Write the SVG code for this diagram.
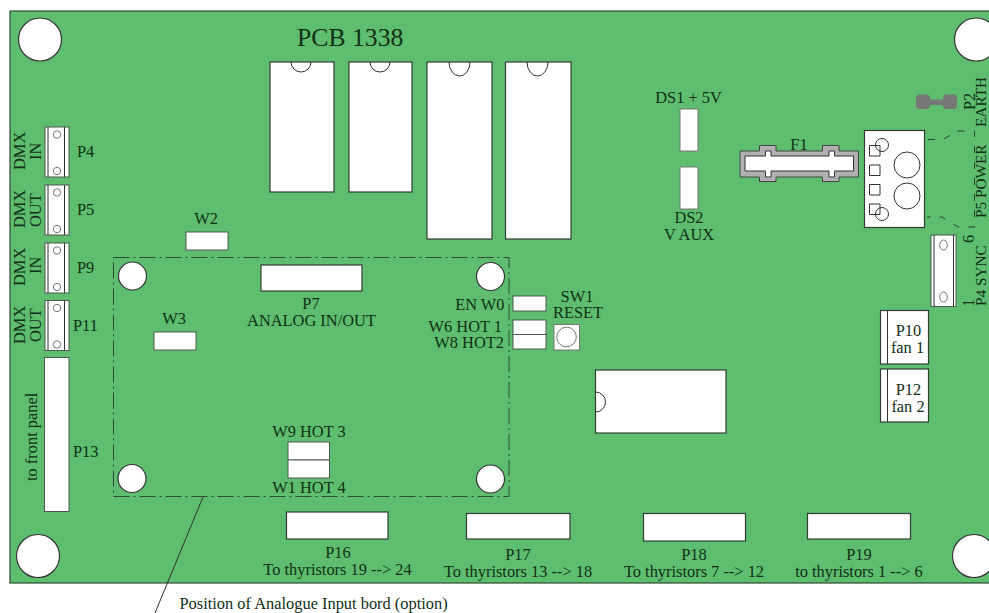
<svg xmlns="http://www.w3.org/2000/svg" width="989" height="613" viewBox="0 0 989 613">
<style>
text{font-family:"Liberation Serif","Times New Roman",serif;font-size:16.4px;fill:#123018}
.m{text-anchor:middle}
.e{font-size:15.300px}
.w{fill:#fff;stroke:#4a5a4c;stroke-width:1}
.b{fill:#fff;stroke:#2f3f33;stroke-width:1.2}
.l{fill:none;stroke:#333;stroke-width:1}
.h{fill:#fff;stroke:#333;stroke-width:1.2}
.g{fill:#fff;stroke:#777;stroke-width:1}
.d{fill:none;stroke:#2f4a35;stroke-width:1;stroke-dasharray:16 4 2 4}
.k{fill:none;stroke:#2f3f33;stroke-width:1;stroke-dasharray:7 9}
.f{fill:#b0b0b0;stroke:#444;stroke-width:1}
</style>
<defs>
<g id="term"><rect class="w" x="0" y="0" width="24" height="50"/><path class="l" d="M3 0V50M19.500 0V50" stroke="#999"/><circle class="g" cx="12" cy="7.500" r="3.700"/><circle class="g" cx="12" cy="44" r="3.700"/></g>
</defs>
<rect id="board" x="10" y="11" width="985" height="572" fill="#5ebd6e" stroke="#2c4a33" stroke-width="1.200"/>
<g id="holes"><circle class="h" cx="40" cy="39.500" r="21.500"/><circle class="h" cx="976" cy="39.500" r="21.500"/><circle class="h" cx="38" cy="556" r="21.500"/><circle class="h" cx="974" cy="556" r="21.500"/></g>
<text x="297" y="46" style="font-size:25.700px">PCB 1338</text>
<g id="ics">
<rect class="b" x="270" y="62" width="64" height="130"/><path class="l" d="M291 62a10 10 0 0 0 20 0"/>
<rect class="b" x="349" y="62" width="63" height="130"/><path class="l" d="M370 62a10 10 0 0 0 20 0"/>
<rect class="b" x="427" y="62" width="65" height="177"/><path class="l" d="M449 62a10.500 14 0 0 0 21 0"/>
<rect class="b" x="505.500" y="62" width="65.500" height="177"/><path class="l" d="M527 62a10.500 14 0 0 0 21 0"/>
<rect class="b" x="595.500" y="370" width="130.500" height="63"/><path class="l" d="M595.500 392a10 10 0 0 1 0 20"/>
</g>
<g id="P4"><use href="#term" x="45" y="127"/><text transform="translate(25 170) rotate(-90)">DMX</text><text transform="translate(41 160) rotate(-90)">IN</text><text x="77" y="157">P4</text></g>
<g id="P5"><use href="#term" x="45" y="185"/><text transform="translate(25 228) rotate(-90)">DMX</text><text transform="translate(41 227) rotate(-90)">OUT</text><text x="77" y="215">P5</text></g>
<g id="P9"><use href="#term" x="45" y="243"/><text transform="translate(25 286) rotate(-90)">DMX</text><text transform="translate(41 274) rotate(-90)">IN</text><text x="77" y="272.500">P9</text></g>
<g id="P11"><use href="#term" x="45" y="300.500"/><text transform="translate(25 344) rotate(-90)">DMX</text><text transform="translate(41 342) rotate(-90)">OUT</text><text x="73" y="331">P11</text></g>
<g id="P13"><rect class="w" x="44.500" y="357.500" width="24.500" height="154"/><text transform="translate(37 481) rotate(-90)">to front panel</text><text x="73" y="457">P13</text></g>
<g id="W2"><rect class="w" x="186" y="232" width="42" height="18"/><text class="m" x="206" y="224">W2</text></g>
<g id="W3"><rect class="w" x="154" y="332" width="42" height="18"/><text class="m" x="174" y="324">W3</text></g>
<g id="option"><rect class="d" x="113.500" y="257.500" width="395.500" height="239"/>
<circle class="h" cx="132.500" cy="276" r="14"/><circle class="h" cx="490.500" cy="276.500" r="14"/><circle class="h" cx="132" cy="478.500" r="14"/><circle class="h" cx="490.500" cy="479" r="14"/></g>
<g id="P7"><rect class="b" x="261" y="265" width="101" height="26"/><text class="m" x="311" y="309">P7</text><text class="m" x="311.500" y="326">ANALOG IN/OUT</text></g>
<g id="W0"><rect class="w" x="513" y="296" width="33" height="15"/><text x="504.500" y="310" text-anchor="end">EN W0</text></g>
<g id="W6"><rect class="w" x="513" y="320" width="33" height="14.500"/><text x="502" y="332" text-anchor="end">W6 HOT 1</text></g>
<g id="W8"><rect class="w" x="513" y="334.500" width="33" height="14.500"/><text x="504" y="348" text-anchor="end">W8 HOT2</text></g>
<g id="SW1"><rect class="g" x="554" y="324.500" width="25.500" height="25.500"/><circle class="g" cx="566.500" cy="337" r="9.800"/><text class="m" x="577" y="302">SW1</text><text class="m" x="578" y="318">RESET</text></g>
<g id="W9"><rect class="w" x="288" y="442" width="41.500" height="18"/><text class="m" x="309" y="437">W9 HOT 3</text></g>
<g id="W1"><rect class="w" x="288" y="460" width="41.500" height="18"/><text class="m" x="309" y="492.500">W1 HOT 4</text></g>
<g id="P16"><rect class="b" x="286.500" y="512" width="101.500" height="27"/><text class="m" x="338" y="558">P16</text><text class="m" x="337.500" y="575">To thyristors 19 --&gt; 24</text></g>
<g id="P17"><rect class="b" x="466.500" y="513.500" width="103.500" height="25.500"/><text class="m" x="518" y="560">P17</text><text class="m" x="518" y="577">To thyristors 13 --&gt; 18</text></g>
<g id="P18"><rect class="b" x="643.500" y="513.500" width="102" height="27.500"/><text class="m" x="694" y="560">P18</text><text class="m" x="694" y="577">To thyristors 7 --&gt; 12</text></g>
<g id="P19"><rect class="b" x="807.500" y="513.500" width="103" height="25.500"/><text class="m" x="859" y="560">P19</text><text class="m" x="859" y="577">to thyristors 1 --&gt; 6</text></g>
<g id="DS1"><rect class="g" x="680" y="109" width="18" height="42"/><text class="m" x="688.500" y="103">DS1 + 5V</text></g>
<g id="DS2"><rect class="g" x="680" y="167" width="18" height="42"/><text class="m" x="689" y="223">DS2</text><text class="m" x="689" y="240">V AUX</text></g>
<g id="F1"><path class="f" d="M740 151H759.500V145.500H776V151H822.500V145.500H839V151H858.500V177H839V181.500H822.500V177H776V181.500H759.500V177H740Z"/>
<path d="M745 156H765.500V151H771V156H829V151H834.500V156H853.500V171H834.500V177H829V171H771V177H765.500V171H745Z" fill="#fff" stroke="#333"/>
<text class="m" x="799" y="150">F1</text></g>
<g id="P5power"><rect class="b" x="864.500" y="130.500" width="60" height="97"/>
<path class="l" d="M869.500 145.500h10.500v10.500h-10.500zM869.500 165h10.500v10.500h-10.500zM869.500 184.500h10.500v10.500h-10.500zM869.500 204h10.500v10.500h-10.500z"/>
<circle class="l" cx="882" cy="145" r="6.500"/><circle class="l" cx="882" cy="214" r="6.500"/><circle class="l" cx="907" cy="165" r="13"/><circle class="l" cx="907" cy="196" r="13"/>
<text class="e" transform="translate(985.500 218) rotate(-90)">P5 POWER</text></g>
<g id="connectors"><path class="k" d="M928 139.500H943L957 131H974.500V227H958L942 217H927"/><path class="l" d="M203 497L155 613"/></g>
<g id="P2"><path d="M916 97L918 94.500H928L930 97V99.500H943V97L945 94.500H955L957 97V107L955 109H945L943 107V105H930V107L928 109H918L916 107Z" fill="#777"/><text transform="translate(975 110) rotate(-90)">P2</text><text class="e" transform="translate(985.500 127) rotate(-90)">EARTH</text></g>
<g id="P4sync"><rect class="w" x="931" y="235" width="25" height="71.500"/><path class="l" d="M934 235V306.500M953.500 235V306.500"/><ellipse class="g" cx="943.500" cy="245" rx="3.800" ry="5"/><ellipse class="g" cx="943.500" cy="297" rx="3.800" ry="5"/>
<text transform="translate(974 243) rotate(-90)">6</text><text transform="translate(974 307) rotate(-90)">1</text><text class="e" transform="translate(985.500 306) rotate(-90)">P4  SYNC</text></g>
<g id="P10"><rect class="b" x="880.500" y="310.500" width="48" height="53.500"/><path class="l" d="M887.500 310.500V364"/><text class="m" x="908.500" y="336">P10</text><text class="m" x="907.500" y="353">fan 1</text></g>
<g id="P12"><rect class="b" x="880.500" y="369" width="48" height="53"/><path class="l" d="M887.500 369V422"/><text class="m" x="908.500" y="395">P12</text><text class="m" x="908" y="412">fan 2</text></g>
<text x="179.500" y="609">Position of Analogue Input bord (option)</text>
</svg>
